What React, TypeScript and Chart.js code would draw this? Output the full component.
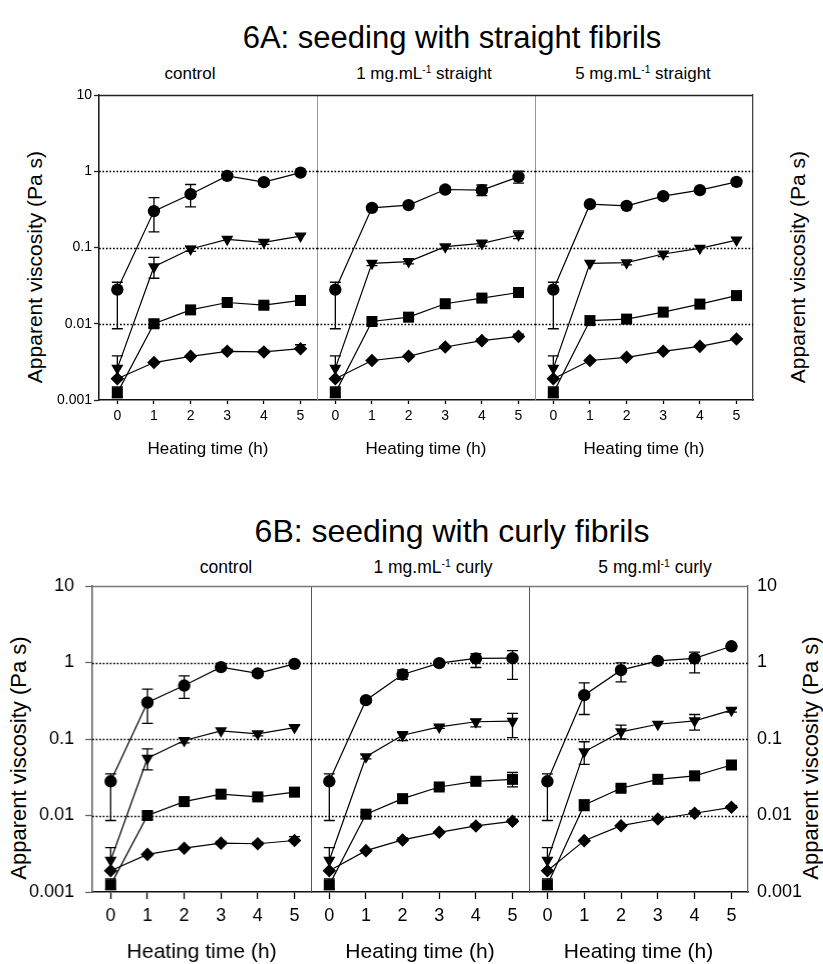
import React, { useEffect, useRef } from "react";
import { Chart, registerables } from "chart.js";

Chart.register(...registerables);

// ---------- shared axis data ----------
const hours = [0, 1, 2, 3, 4, 5];
const yTickValues = [0.001, 0.01, 0.1, 1, 10];
const yTickLabels = ["0.001", "0.01", "0.1", "1", "10"];
const dottedLevels = [0.01, 0.1, 1];

const figATitle = "6A: seeding with straight fibrils";
const figBTitle = "6B: seeding with curly fibrils";
const xTitle = "Heating time (h)";
const yTitle = "Apparent viscosity (Pa s)";

// ---------- control (same in 6A and 6B) ----------
const ctrlCircle = [0.028, 0.30, 0.50, 0.87, 0.72, 0.96];
const ctrlCircleHi = [0.035, 0.45, 0.67, null, 0.78, null];
const ctrlCircleLo = [0.0086, 0.16, 0.34, null, 0.67, null];
const ctrlTri = [0.0026, 0.056, 0.0955, 0.128, 0.117, 0.141];
const ctrlTriHi = [0.0038, 0.0744, 0.103, null, 0.125, 0.150];
const ctrlTriLo = [null, 0.0395, 0.089, null, 0.110, null];
const ctrlSq = [0.00124, 0.0100, 0.0152, 0.0190, 0.0175, 0.0202];
const ctrlSqHi = [0.00148, 0.0112, null, 0.0207, 0.0188, 0.0216];
const ctrlSqLo = [0.00108, 0.0089, null, 0.0175, 0.0163, null];
const ctrlDia = [0.0019, 0.0031, 0.00374, 0.00435, 0.00427, 0.00471];
const ctrlDiaHi = [null, null, null, 0.0046, 0.0045, 0.0053];
const ctrlDiaLo = [null, null, null, null, null, null];

// ---------- 1 mg/mL straight ----------
const s1Circle = [0.028, 0.331, 0.36, 0.576, 0.565, 0.843];
const s1CircleHi = [0.035, 0.35, 0.39, 0.62, 0.66, 1.0];
const s1CircleLo = [0.0086, 0.31, 0.33, 0.53, 0.48, 0.70];
const s1Tri = [0.0026, 0.062, 0.0653, 0.1025, 0.113, 0.146];
const s1TriHi = [0.0038, null, 0.070, 0.108, 0.125, 0.165];
const s1TriLo = [null, 0.058, 0.061, 0.096, 0.104, 0.131];
const s1Sq = [0.00124, 0.0107, 0.0122, 0.0183, 0.0217, 0.0257];
const s1SqHi = [0.00148, null, 0.0130, null, 0.0235, 0.0275];
const s1SqLo = [0.00108, null, 0.0114, null, 0.0200, null];
const s1Dia = [0.0019, 0.0033, 0.00374, 0.00496, 0.0060, 0.00682];
const s1DiaHi = [null, null, null, null, 0.0064, 0.0073];
const s1DiaLo = [null, null, null, null, null, null];

// ---------- 5 mg/mL straight ----------
const s5Circle = [0.028, 0.37, 0.352, 0.471, 0.565, 0.725];
const s5CircleHi = [0.035, null, 0.38, 0.50, null, 0.78];
const s5CircleLo = [0.0086, null, 0.33, 0.44, null, 0.67];
const s5Tri = [0.0026, 0.062, 0.0633, 0.0822, 0.0975, 0.125];
const s5TriHi = [0.0038, null, null, 0.088, null, 0.135];
const s5TriLo = [null, null, 0.059, 0.076, null, null];
const s5Sq = [0.00124, 0.011, 0.0115, 0.0142, 0.0181, 0.0234];
const s5SqHi = [0.00148, null, null, null, null, 0.025];
const s5SqLo = [0.00108, null, null, null, null, null];
const s5Dia = [0.0019, 0.0033, 0.00363, 0.00435, 0.00505, 0.0063];
const s5DiaHi = [null, null, null, null, null, null];
const s5DiaLo = [null, null, null, null, null, null];

// ---------- 1 mg/mL curly ----------
const c1Circle = [0.028, 0.322, 0.697, 0.98, 1.13, 1.14];
const c1CircleHi = [0.035, 0.34, 0.80, 1.05, 1.31, 1.43];
const c1CircleLo = [0.0086, 0.30, 0.60, 0.92, 0.86, 0.60];
const c1Tri = [0.0026, 0.0586, 0.112, 0.144, 0.168, 0.171];
const c1TriHi = [0.0038, 0.062, 0.125, 0.150, 0.180, 0.216];
const c1TriLo = [null, 0.055, 0.095, 0.138, 0.144, 0.104];
const c1Sq = [0.00124, 0.0104, 0.0166, 0.0236, 0.028, 0.0297];
const c1SqHi = [0.00148, 0.011, 0.018, 0.025, 0.030, 0.0367];
const c1SqLo = [0.00108, 0.0098, 0.0152, 0.0222, 0.026, 0.0237];
const c1Dia = [0.0019, 0.00347, 0.00479, 0.00603, 0.0073, 0.0084];
const c1DiaHi = [null, null, 0.0051, null, 0.0077, 0.0089];
const c1DiaLo = [null, null, null, null, null, null];

// ---------- 5 mg/mL curly ----------
const c5Circle = [0.028, 0.374, 0.794, 1.05, 1.13, 1.63];
const c5CircleHi = [0.035, 0.541, 0.99, null, 1.37, null];
const c5CircleLo = [0.0086, 0.209, 0.558, null, 0.73, null];
const c5Tri = [0.0026, 0.068, 0.124, 0.156, 0.173, 0.238];
const c5TriHi = [0.0038, 0.092, 0.152, null, 0.209, 0.25];
const c5TriLo = [null, 0.0465, 0.10, null, 0.131, 0.225];
const c5Sq = [0.00124, 0.0137, 0.0227, 0.0297, 0.033, 0.0457];
const c5SqHi = [0.00148, 0.016, 0.024, null, 0.037, 0.048];
const c5SqLo = [0.00108, 0.0116, 0.021, null, 0.029, 0.043];
const c5Dia = [0.0019, 0.00469, 0.00736, 0.009, 0.0107, 0.0128];
const c5DiaHi = [null, null, null, null, 0.0115, 0.0135];
const c5DiaLo = [null, null, null, null, null, null];

const FONT = "'Liberation Sans', Arial, Helvetica, sans-serif";

// ---------- styling for the two figures ----------
const figA = {
  top: 95, bottom: 400, edges: [99, 317, 535, 753], padTop: 20, xH: 58,
  tickSize: 14, xTitleSize: 17, yTickLen: 5, yTickPad: 2, xTickLen: 4, xTickPad: 4,
  rightW: 2, rightTicks: false,
  axisColor: "#222", topColor: "#222", dividerColor: "#999", rightColor: "#444",
};
const figB = {
  top: 586, bottom: 892, edges: [92, 310.5, 529, 748], padTop: 24, xH: 71,
  tickSize: 18, xTitleSize: 21, yTickLen: 7, yTickPad: 11, xTickLen: 7, xTickPad: 6,
  rightW: 62, rightTicks: true,
  axisColor: "#666", topColor: "#777", dividerColor: "#555", rightColor: "#666",
};

function series(vals: any[], hi: any[], lo: any[], style: string, r: number, rot: number) {
  return { vals, hi, lo, style, r, rot };
}
function panelSeries(c: any[], ch: any[], cl: any[], t: any[], th: any[], tl: any[], s: any[], sh: any[], sl: any[], d: any[], dh: any[], dl: any[]) {
  return [
    series(c, ch, cl, "circle", 6.2, 0),
    series(t, th, tl, "triangle", 7, 180),
    series(s, sh, sl, "rect", 7.8, 0),
    series(d, dh, dl, "rectRot", 6.8, 0),
  ];
}

const ctrlSeries = panelSeries(ctrlCircle, ctrlCircleHi, ctrlCircleLo, ctrlTri, ctrlTriHi, ctrlTriLo, ctrlSq, ctrlSqHi, ctrlSqLo, ctrlDia, ctrlDiaHi, ctrlDiaLo);
const panelsA = [
  ctrlSeries,
  panelSeries(s1Circle, s1CircleHi, s1CircleLo, s1Tri, s1TriHi, s1TriLo, s1Sq, s1SqHi, s1SqLo, s1Dia, s1DiaHi, s1DiaLo),
  panelSeries(s5Circle, s5CircleHi, s5CircleLo, s5Tri, s5TriHi, s5TriLo, s5Sq, s5SqHi, s5SqLo, s5Dia, s5DiaHi, s5DiaLo),
];
const panelsB = [
  ctrlSeries,
  panelSeries(c1Circle, c1CircleHi, c1CircleLo, c1Tri, c1TriHi, c1TriLo, c1Sq, c1SqHi, c1SqLo, c1Dia, c1DiaHi, c1DiaLo),
  panelSeries(c5Circle, c5CircleHi, c5CircleLo, c5Tri, c5TriHi, c5TriLo, c5Sq, c5SqHi, c5SqLo, c5Dia, c5DiaHi, c5DiaLo),
];

// dotted reference lines at 0.01, 0.1, 1 and the top frame line
const framePlugin = {
  id: "frameLines",
  beforeDatasetsDraw(chart: any) {
    const { ctx, chartArea } = chart;
    const y = chart.scales.y;
    const color = chart.options.plugins.frameLines.color;
    ctx.save();
    ctx.strokeStyle = "#000";
    ctx.lineWidth = 1.7;
    ctx.setLineDash([1.7, 1.8]);
    dottedLevels.forEach((v) => {
      const py = Math.round(y.getPixelForValue(v)) + 0.5;
      ctx.beginPath();
      ctx.moveTo(chartArea.left, py);
      ctx.lineTo(chartArea.right, py);
      ctx.stroke();
    });
    ctx.setLineDash([]);
    ctx.strokeStyle = color;
    ctx.lineWidth = 1.4;
    ctx.beginPath();
    ctx.moveTo(chartArea.left, chartArea.top + 0.5);
    ctx.lineTo(chartArea.right, chartArea.top + 0.5);
    ctx.stroke();
    ctx.restore();
  },
};

const errorBarPlugin = {
  id: "errorBars",
  beforeDatasetsDraw(chart: any) {
    const { ctx } = chart;
    const x = chart.scales.x;
    const y = chart.scales.y;
    ctx.save();
    ctx.strokeStyle = "#000";
    ctx.lineWidth = 1.3;
    chart.data.datasets.forEach((ds: any) => {
      ds.data.forEach((pt: any, i: number) => {
        const px = x.getPixelForValue(pt.x);
        const py = y.getPixelForValue(pt.y);
        [ds.errHi[i], ds.errLo[i]].forEach((v: any) => {
          if (v == null) return;
          const ey = y.getPixelForValue(v);
          ctx.beginPath();
          ctx.moveTo(px, py);
          ctx.lineTo(px, ey);
          ctx.moveTo(px - 5.5, ey);
          ctx.lineTo(px + 5.5, ey);
          ctx.stroke();
        });
      });
    });
    ctx.restore();
  },
};

function tickLabel(v: any) {
  const i = yTickValues.indexOf(Number(v));
  return i >= 0 ? yTickLabels[i] : "";
}

function buildConfig(fig: any, idx: number, list: any[]) {
  const first = idx === 0;
  const last = idx === 2;
  const L = fig.edges[idx];
  const tickFont = { family: FONT, size: fig.tickSize };
  const scales: any = {
    x: {
      type: "linear",
      min: -0.5,
      max: 5.45,
      afterBuildTicks: (s: any) => { s.ticks = hours.map((v) => ({ value: v })); },
      afterFit: (s: any) => { s.height = fig.xH; },
      ticks: { font: tickFont, color: "#000", padding: fig.xTickPad, maxRotation: 0, autoSkip: false, callback: (v: any) => String(v) },
      grid: { drawOnChartArea: false, drawTicks: true, tickLength: fig.xTickLen, tickColor: "#000", tickWidth: 1.3 },
      border: { color: "#111", width: 1.6 },
      title: { display: true, text: xTitle, color: "#000", font: { family: FONT, size: fig.xTitleSize, lineHeight: 1 }, padding: { top: 0, bottom: 0 } },
    },
    y: {
      type: "logarithmic",
      min: 0.001,
      max: 10,
      afterBuildTicks: (s: any) => { s.ticks = yTickValues.map((v) => ({ value: v })); },
      afterFit: (s: any) => { s.width = first ? L : 0; },
      ticks: { display: first, font: tickFont, color: "#000", padding: fig.yTickPad, autoSkip: false, callback: tickLabel },
      grid: {
        drawOnChartArea: false,
        drawTicks: first,
        tickLength: fig.yTickLen,
        color: fig.axisColor,
        tickColor: fig.axisColor,
        tickWidth: 1.3,
      },
      border: { display: true, color: first ? fig.axisColor : fig.dividerColor, width: first ? 1.6 : 1 },
    },
  };
  if (last) {
    scales.y2 = {
      type: "logarithmic",
      position: "right",
      min: 0.001,
      max: 10,
      afterBuildTicks: (s: any) => { s.ticks = yTickValues.map((v) => ({ value: v })); },
      afterFit: (s: any) => { s.width = fig.rightW; },
      ticks: { display: fig.rightTicks, font: tickFont, color: "#000", padding: 9, autoSkip: false, callback: tickLabel },
      grid: { display: false, drawTicks: false },
      border: { display: true, color: fig.rightColor, width: 1.3 },
    };
  }
  return {
    type: "line",
    data: {
      datasets: list.map((s: any) => ({
        data: hours.map((h, i) => ({ x: h, y: s.vals[i] })),
        errHi: s.hi,
        errLo: s.lo,
        borderColor: "#000",
        borderWidth: 1.2,
        backgroundColor: "#000",
        pointStyle: s.style,
        pointRadius: s.r,
        pointHoverRadius: s.r,
        pointRotation: s.rot,
        pointBorderWidth: 0,
        pointBackgroundColor: "#000",
        fill: false,
        tension: 0,
        clip: false,
      })),
    },
    options: {
      animation: false,
      responsive: false,
      events: [],
      layout: { autoPadding: false, padding: { top: fig.padTop, left: 0, right: 0, bottom: 0 } },
      plugins: { legend: { display: false }, tooltip: { enabled: false }, title: { display: false }, frameLines: { color: fig.topColor } },
      scales,
    },
    plugins: [framePlugin, errorBarPlugin],
  };
}

function Panel({ fig, idx, list }: any) {
  const ref = useRef<HTMLCanvasElement>(null);
  const L = fig.edges[idx];
  const R = fig.edges[idx + 1];
  const cx = idx === 0 ? 0 : L;
  const cw = (idx === 0 ? R : R - L) + (idx === 2 ? fig.rightW : 0);
  const cy = fig.top - fig.padTop;
  const ch = fig.bottom - fig.top + fig.padTop + fig.xH;
  useEffect(() => {
    const chart = new Chart(ref.current as HTMLCanvasElement, buildConfig(fig, idx, list) as any);
    return () => chart.destroy();
  }, []);
  return (
    <canvas
      ref={ref}
      width={cw}
      height={ch}
      style={{ position: "absolute", left: cx, top: cy, width: cw, height: ch }}
    />
  );
}

function Txt({ x, y, size, children, rotate }: any) {
  return (
    <div
      style={{
        position: "absolute",
        left: x,
        top: y,
        transform: `translate(-50%, -50%)${rotate ? " rotate(-90deg)" : ""}`,
        fontFamily: FONT,
        fontSize: size,
        lineHeight: 1,
        whiteSpace: "nowrap",
        color: "#000",
      }}
    >
      {children}
    </div>
  );
}

const Sup = ({ children }: any) => (
  <span style={{ fontSize: "0.6em", position: "relative", top: "-0.6em" }}>{children}</span>
);

export default function App() {
  return (
    <div style={{ position: "absolute", left: 0, top: 0, width: 823, height: 964, background: "#fff", overflow: "hidden" }}>
      <Txt x={452} y={37} size={31}>{figATitle}</Txt>
      <Txt x={190} y={73} size={17}>control</Txt>
      <Txt x={424} y={73} size={17}>1 mg.mL<Sup>-1</Sup> straight</Txt>
      <Txt x={643} y={73} size={17}>5 mg.mL<Sup>-1</Sup> straight</Txt>
      <Txt x={34} y={267} size={21} rotate>{yTitle}</Txt>
      <Txt x={797} y={267} size={21} rotate>{yTitle}</Txt>
      {panelsA.map((list, i) => (
        <Panel key={"a" + i} fig={figA} idx={i} list={list} />
      ))}

      <Txt x={452} y={531} size={32}>{figBTitle}</Txt>
      <Txt x={226} y={568} size={17.5}>control</Txt>
      <Txt x={433} y={568} size={17.5}>1 mg.mL<Sup>-1</Sup> curly</Txt>
      <Txt x={655} y={568} size={17.5}>5 mg.ml<Sup>-1</Sup> curly</Txt>
      <Txt x={19} y={758} size={22} rotate>{yTitle}</Txt>
      <Txt x={811} y={758} size={22} rotate>{yTitle}</Txt>
      {panelsB.map((list, i) => (
        <Panel key={"b" + i} fig={figB} idx={i} list={list} />
      ))}
    </div>
  );
}
